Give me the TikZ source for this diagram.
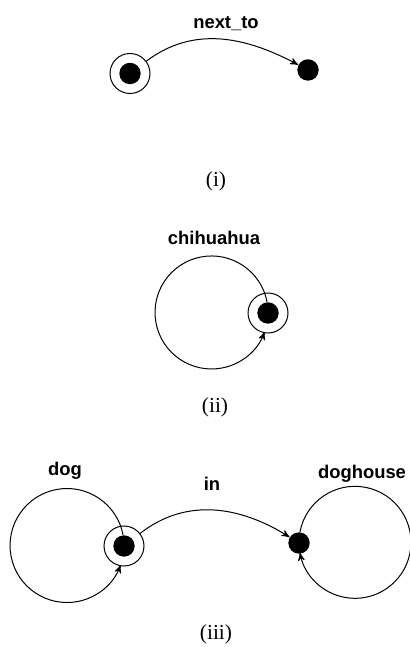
\documentclass[tikz,border=0pt]{standalone}
\usepackage{fontspec}
\setmainfont{Liberation Serif}
\setsansfont{Liberation Sans}
\usetikzlibrary{arrows,positioning}
\tikzset{
    %Define standard arrow tip
    >=stealth',
    blob/.style={
      circle,
      fill=black,
      inner sep=0pt,
      minimum size=10.7pt},
    halo/.style={
      circle,
      draw=black,
      inner sep=0pt,
      minimum size=20pt},
    rel/.style={
      font=\sffamily\bfseries\fontsize{9.2}{11}\selectfont,
      anchor=base},
    sublabel/.style={
      font=\fontsize{10.7}{13}\selectfont},
}

\begin{document}
\begin{tikzpicture}[x=0.5pt,y=0.5pt,line width=0.5pt]
    \useasboundingbox (0,0) rectangle (409,647);
    % (i)
    \node (src) [blob] at (130,573.5) {};
    \node (srcring) [halo] at (src) {};
    \node (tgt) [blob] at (308,577) {};
    \draw [->] (srcring) to [out=37,in=152] (tgt);
    \node (nextto) [rel] at (226,618.7) {next\_to};
    \node (capi) [sublabel] at (216,466) {(i)};
    % (ii)
    \node (chi) [blob] at (268,334) {};
    \node (chiring) [halo] at (chi) {};
    \draw [->] (chi.95) arc [start angle=10.85, end angle=339.7, radius=28.25pt];
    \node (chilabel) [rel] at (214,402) {chihuahua};
    \node (capii) [sublabel] at (215,239.5) {(ii)};
    % (iii)
    \node (dog) [blob] at (124,101) {};
    \node (dogring) [halo] at (dog) {};
    \draw [->] (dog.95) arc [start angle=10.8, end angle=339.8, radius=28.5pt];
    \node (doglabel) [rel] at (65,171) {dog};
    \node (house) [blob] at (299,104) {};
    \draw [->] (house.85) arc [start angle=169.2, end angle=-169.2, radius=28pt];
    \node (houselabel) [rel] at (362,168) {doghouse};
    \draw [->] (dogring) to [out=38,in=148] (house);
    \node (inlabel) [rel] at (212,156) {in};
    \node (capiii) [sublabel] at (216,13) {(iii)};
\end{tikzpicture}
\end{document}
